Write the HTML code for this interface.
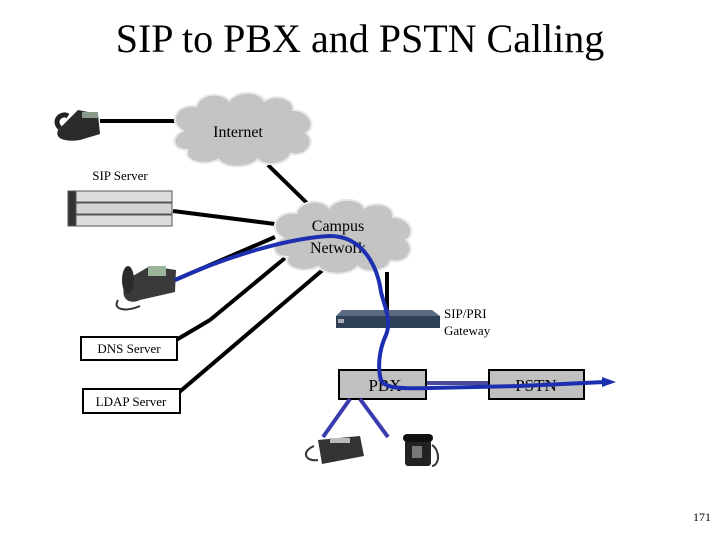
<!DOCTYPE html>
<html><head><meta charset="utf-8"><style>
body{margin:0;background:#fff}
svg{display:block}
text{font-family:"Liberation Serif",serif}
</style></head><body>
<svg width="720" height="540" viewBox="0 0 720 540" xmlns="http://www.w3.org/2000/svg">
<text x="360" y="52" font-size="40" text-anchor="middle">SIP to PBX and PSTN Calling</text>
<defs>
<g id="cloud">
<path d="M10,40 C-5,30 5,10 22,14 C25,0 45,-2 52,8 C60,-4 80,-2 84,8 C95,0 112,6 110,18 C125,18 132,35 122,42 C132,52 122,68 108,64 C104,76 84,78 78,70 C70,80 48,80 42,70 C30,78 10,72 14,60 C0,60 -2,46 10,40 Z" fill="#c4c4c4" stroke="#e8e8e8" stroke-width="2"/>
</g>
</defs>
<g stroke="#000" stroke-width="4" fill="none">
<line x1="100" y1="121" x2="175" y2="121"/>
<line x1="268" y1="165" x2="312" y2="208"/>
<line x1="173" y1="211" x2="275" y2="224"/>
<line x1="275" y1="237" x2="175" y2="280"/>
<line x1="285" y1="258" x2="210" y2="320"/>
<line x1="210" y1="320" x2="166" y2="346"/>
<line x1="325" y1="268" x2="170" y2="400"/>
<line x1="387" y1="272" x2="387" y2="312"/>
</g>
<g transform="translate(172,93) scale(1.1,0.95)"><use href="#cloud"/></g>
<text x="238" y="137" font-size="16" text-anchor="middle">Internet</text>
<g transform="translate(272,200) scale(1.1,0.95)"><use href="#cloud"/></g>
<text x="338" y="231" font-size="16" text-anchor="middle">Campus</text>
<text x="338" y="253" font-size="16" text-anchor="middle">Network</text>
<g>
<path d="M58,130 C54,140 68,142 80,140 L100,134 L98,114 L78,110 Z" fill="#2a2a2a"/>
<rect x="82" y="112" width="16" height="6" fill="#8a9a8a"/>
<path d="M60,128 C52,120 62,112 68,116" stroke="#222" stroke-width="5" fill="none"/>
</g>
<text x="120" y="180" font-size="13" text-anchor="middle">SIP Server</text>
<g stroke="#555" stroke-width="1">
<rect x="68" y="191" width="104" height="11" fill="#ddd"/>
<rect x="68" y="203" width="104" height="11" fill="#d4d4d4"/>
<rect x="68" y="215" width="104" height="11" fill="#ddd"/>
<rect x="68" y="191" width="8" height="35" fill="#333"/>
</g>
<g>
<path d="M126,280 C118,300 130,305 140,300 L175,292 L176,270 L150,266 Z" fill="#3a3a3a"/>
<rect x="148" y="266" width="18" height="10" fill="#9ab59a"/>
<ellipse cx="128" cy="280" rx="6" ry="14" fill="#2a2a2a"/>
<path d="M118,300 C112,310 126,312 140,306" stroke="#333" stroke-width="2" fill="none"/>
</g>
<path d="M342,310 L432,310 L440,316 L336,316 Z" fill="#5a6a80"/>
<rect x="336" y="316" width="104" height="12" fill="#2e4056"/>
<rect x="338" y="319" width="6" height="4" fill="#aab"/>
<text x="444" y="318" font-size="13">SIP/PRI</text>
<text x="444" y="335" font-size="13">Gateway</text>
<rect x="81" y="337" width="96" height="23" fill="#fff" stroke="#000" stroke-width="2"/>
<text x="129" y="353" font-size="13" text-anchor="middle">DNS Server</text>
<rect x="83" y="389" width="97" height="24" fill="#fff" stroke="#000" stroke-width="2"/>
<text x="131" y="406" font-size="13" text-anchor="middle">LDAP Server</text>
<line x1="426" y1="383" x2="488" y2="383" stroke="#4a4a9a" stroke-width="4"/>
<rect x="339" y="370" width="87" height="29" fill="#c0c0c0" stroke="#000" stroke-width="2"/>
<text x="385" y="391" font-size="17" text-anchor="middle">PBX</text>
<rect x="489" y="370" width="95" height="29" fill="#c0c0c0" stroke="#000" stroke-width="2"/>
<text x="536" y="391" font-size="17" text-anchor="middle">PSTN</text>
<g stroke="#1c2fb0" stroke-width="4" fill="none">
<path d="M175,280 C230,255 290,238 330,236 C365,236 378,270 381,292 C384,305 392,320 386,335 C378,352 378,370 381,380 C384,388 400,389 430,388 L520,386 L605,382"/>
<line x1="350" y1="399" x2="323" y2="437" stroke="#3b3bb0"/>
<line x1="360" y1="399" x2="388" y2="437" stroke="#3b3bb0"/>
</g>
<path d="M602,377 L616,382 L602,387 Z" fill="#1c2fb0"/>
<g>
<path d="M318,440 L360,436 L364,456 L322,464 Z" fill="#333"/>
<rect x="330" y="438" width="20" height="5" fill="#bbb"/>
<path d="M314,446 C300,452 306,462 318,460" stroke="#333" stroke-width="2" fill="none"/>
<rect x="405" y="440" width="26" height="26" rx="3" fill="#222"/>
<rect x="403" y="434" width="30" height="8" rx="4" fill="#111"/>
<rect x="412" y="446" width="10" height="12" fill="#777"/>
<path d="M432,445 C440,450 440,465 432,466" stroke="#333" stroke-width="2" fill="none"/>
</g>
<text x="702" y="521" font-size="12" text-anchor="middle">171</text>
</svg>
</body></html>
